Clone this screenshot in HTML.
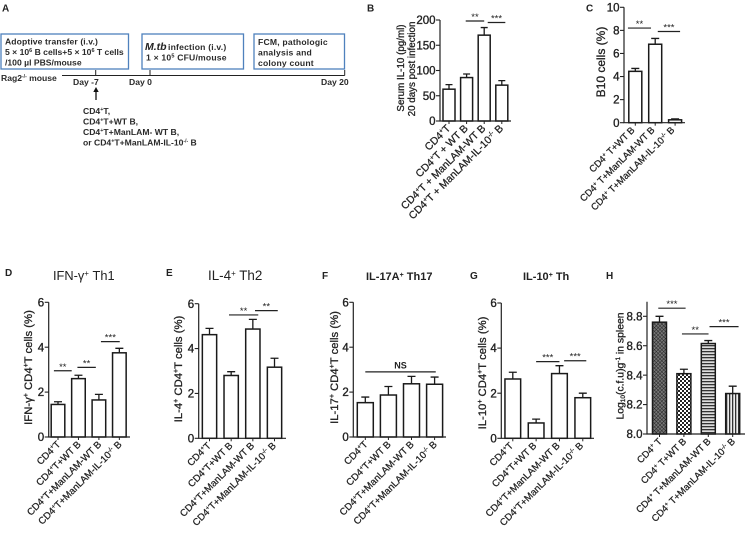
<!DOCTYPE html>
<html lang="en">
<head>
<meta charset="utf-8">
<title>Figure panels A-H</title>
<style>
html,body{margin:0;padding:0;background:#fff;}
svg{display:block;font-family:"Liberation Sans",sans-serif;fill:#222;filter:blur(0.25px);}
text{fill:#222;}
.bold{font-weight:bold;}
.a{font-size:8.6px;font-weight:bold;fill:#2a2a2a;}
</style>
</head>
<body>
<svg id="figure" width="749" height="533" viewBox="0 0 749 533" xmlns="http://www.w3.org/2000/svg">
<defs>
<pattern id="hatch-cross" width="2.6" height="2.6" patternUnits="userSpaceOnUse" patternTransform="rotate(45)"><rect width="2.6" height="2.6" fill="#777"/><path d="M0 0H2.6M0 0V2.6" stroke="#222" stroke-width="1"/></pattern>
<pattern id="hatch-check" width="4" height="4" patternUnits="userSpaceOnUse"><rect width="4" height="4" fill="#fff"/><rect width="2" height="2" fill="#222"/><rect x="2" y="2" width="2" height="2" fill="#222"/></pattern>
<pattern id="hatch-horizontal" width="3" height="3" patternUnits="userSpaceOnUse"><rect width="3" height="3" fill="#ddd"/><rect width="3" height="1.3" fill="#333"/></pattern>
<pattern id="hatch-vertical" width="3" height="3" patternUnits="userSpaceOnUse"><rect width="3" height="3" fill="#eee"/><rect width="1.3" height="3" fill="#333"/></pattern>
</defs>
<g id="panel-a">
<text class="bold" x="2" y="11.5" font-size="10">A</text>
<rect x="1" y="34" width="127.5" height="35" fill="none" stroke="#4f81bd" stroke-width="1.3"/>
<rect x="142" y="34" width="101.5" height="35" fill="none" stroke="#4f81bd" stroke-width="1.3"/>
<rect x="254" y="34" width="90.5" height="35" fill="none" stroke="#4f81bd" stroke-width="1.3"/>
<text class="a" x="5" y="44.5" letter-spacing="0.1">Adoptive transfer (i.v.)</text>
<text class="a" x="5" y="55">5 × 10<tspan font-size="5.5" dy="-3">6</tspan><tspan dy="3"> B cells+5 × 10</tspan><tspan font-size="5.5" dy="-3">6</tspan><tspan dy="3">  T cells</tspan></text>
<text class="a" x="5" y="65.5">/100 µl PBS/mouse</text>
<text x="145" y="50" font-size="10.5" font-weight="bold" font-style="italic">M.tb</text>
<text class="a" x="168" y="50" letter-spacing="0.2">infection (i.v.)</text>
<text class="a" x="146" y="60.5" letter-spacing="0.2">1 × 10<tspan font-size="5.5" dy="-3">5</tspan><tspan dy="3"> CFU/mouse</tspan></text>
<text class="a" x="258" y="45" letter-spacing="0.2">FCM, pathologic</text>
<text class="a" x="258" y="55.5" letter-spacing="0.2">analysis and</text>
<text class="a" x="258" y="66" letter-spacing="0.2">colony count</text>
<path d="M62 75.5H344.7M95.7 70V75.5M150 70V75.5M344.7 70V75.5" stroke="#222" stroke-width="1" fill="none"/>
<text class="a" x="1" y="81">Rag2<tspan font-size="5" dy="-3">-/-</tspan><tspan dy="3"> mouse</tspan></text>
<text class="a" x="73" y="85">Day -7</text>
<text class="a" x="129" y="85">Day 0</text>
<text class="a" x="321" y="85">Day 20</text>
<path d="M96 100V90" stroke="#111" stroke-width="1.3" fill="none"/>
<path d="M93.3 92L96 87L98.7 92Z" fill="#111"/>
<text class="a" x="83" y="114">CD4<tspan font-size="5.5" dy="-3">+</tspan><tspan dy="3">T,</tspan></text>
<text class="a" x="83" y="124.5">CD4<tspan font-size="5.5" dy="-3">+</tspan><tspan dy="3">T+WT B,</tspan></text>
<text class="a" x="83" y="135">CD4<tspan font-size="5.5" dy="-3">+</tspan><tspan dy="3">T+ManLAM- WT B,</tspan></text>
<text class="a" x="83" y="145.5">or CD4<tspan font-size="5.5" dy="-3">+</tspan><tspan dy="3">T+ManLAM-IL-10</tspan><tspan font-size="5" dy="-3">-/-</tspan><tspan dy="3">  B</tspan></text>
</g>
<text class="bold" x="367" y="11.5" font-size="10">B</text>
<text class="bold" x="586" y="11.5" font-size="10">C</text>
<text class="bold" x="5" y="276" font-size="10">D</text>
<text class="bold" x="166" y="276" font-size="10">E</text>
<text class="bold" x="322" y="279" font-size="10">F</text>
<text class="bold" x="470" y="279" font-size="10">G</text>
<text class="bold" x="606" y="279" font-size="10">H</text>
<text x="53" y="280" font-size="12.8">IFN-γ<tspan font-size="8" dy="-4">+</tspan><tspan dy="4"> Th1</tspan></text>
<text x="208" y="280" font-size="13.4">IL-4<tspan font-size="8" dy="-4">+</tspan><tspan dy="4"> Th2</tspan></text>
<text class="bold" x="366" y="280" font-size="11">IL-17A<tspan font-size="7" dy="-3">+</tspan><tspan dy="3"> Th17</tspan></text>
<text class="bold" x="523" y="280" font-size="11">IL-10<tspan font-size="7" dy="-3">+</tspan><tspan dy="3"> Th</tspan></text>
<g id="charts"></g>
</svg>
<script>
// Category labels; "^x^" marks superscript runs, "~x~" subscript runs
const categoriesB = ["CD4^+^T", "CD4^+^T + WT B", "CD4^+^T + ManLAM-WT B", "CD4^+^T + ManLAM-IL-10^-/-^ B"];
const categoriesC = ["CD4^+^ T+WT B", "CD4^+^ T+ManLAM-WT B", "CD4^+^ T+ManLAM-IL-10^-/-^ B"];
const categoriesDG = ["CD4^+^T", "CD4^+^T+WT B", "CD4^+^T+ManLAM-WT B", "CD4^+^T+ManLAM-IL-10^-/-^ B"];
const categoriesH = ["CD4^+^ T", "CD4^+^ T+WT B", "CD4^+^ T+ManLAM-WT B", "CD4^+^ T+ManLAM-IL-10^-/-^ B"];

// Bar values and top-of-error-bar values
const valuesB = [63, 86, 170, 71];
const errorsB = [72, 93, 185, 80];
const valuesC = [4.45, 6.8, 0.25];
const errorsC = [4.7, 7.3, 0.33];
const valuesD = [1.45, 2.6, 1.65, 3.75];
const errorsD = [1.57, 2.75, 1.9, 3.95];
const valuesE = [4.62, 2.8, 4.87, 3.17];
const errorsE = [4.9, 2.97, 5.3, 3.57];
const valuesF = [1.53, 1.87, 2.37, 2.35];
const errorsF = [1.78, 2.25, 2.7, 2.67];
const valuesG = [2.63, 0.68, 2.87, 1.8];
const errorsG = [2.93, 0.85, 3.22, 2.0];
const valuesH = [8.76, 8.41, 8.615, 8.275];
const errorsH = [8.80, 8.44, 8.635, 8.325];

// Tick labels
const ticksB = [0, 50, 100, 150, 200];
const ticksC = [0, 2, 4, 6, 8, 10];
const ticksSix = [0, 2, 4, 6];
const ticksH = ["8.0", "8.2", "8.4", "8.6", "8.8"];

// Significance: [from category, to category, data level, mark]
const sigB = [[0.95, 2, 198, "**"], [2.2, 3.2, 195, "***"]];
const sigC = [[-0.37, 0.79, 8.2, "**"], [1.13, 2.25, 7.9, "***"]];
const sigD = [[-0.2, 0.67, 2.95, "**"], [0.95, 1.85, 3.1, "**"], [2.1, 3.02, 4.25, "***"]];
const sigE = [[0.9, 2.25, 5.5, "**"], [2.1, 3.15, 5.69, "**"]];
const sigF = [[0, 3.05, 2.9, "NS"]];
const sigG = [[1, 2, 3.4, "***"], [2.2, 3.15, 3.44, "***"]];
const sigH = [[-0.05, 1.07, 8.855, "***"], [0.92, 2.01, 8.68, "**"], [2.05, 3.24, 8.73, "***"]];

const NS = "http://www.w3.org/2000/svg";
const root = document.getElementById("charts");

function svgEl(tag, attrs, parent) {
  const el = document.createElementNS(NS, tag);
  for (const k in attrs) el.setAttribute(k, attrs[k]);
  parent.appendChild(el);
  return el;
}

function richText(el, str, size) {
  const re = /\^([^^]*)\^|~([^~]*)~|([^^~]+)/g;
  let shifted = 0, m;
  while ((m = re.exec(str))) {
    const t = document.createElementNS(NS, "tspan");
    const small = m[3] === undefined;
    t.textContent = m[1] !== undefined ? m[1] : m[2] !== undefined ? m[2] : m[3];
    const target = m[1] !== undefined ? -size * 0.35 : m[2] !== undefined ? size * 0.12 : 0;
    if (target !== shifted) { t.setAttribute("dy", target - shifted); shifted = target; }
    if (small) t.setAttribute("font-size", size * 0.62);
    el.appendChild(t);
  }
}

function drawPanel(o) {
  const g = svgEl("g", {}, root);
  
  
  const y = v => o.yZero - (v - o.yMin) / (o.yMax - o.yMin) * (o.yZero - o.yTop);
  const cx = i => o.firstCenter + i * o.step;
  const yEnd = o.axisTop === undefined ? o.yTop : o.axisTop;

  // bars
  o.values.forEach((v, i) => {
    const c = cx(i);
    const err = svgEl("path", {
      d: `M${c} ${y(v)}V${y(o.errors[i])}M${c - o.cap} ${y(o.errors[i])}H${c + o.cap}`,
      stroke: "#1a1a1a", "stroke-width": 1.3, fill: "none"
    }, g);
    
    
    const bar = svgEl("rect", {
      x: c - o.barWidth / 2, y: y(v), width: o.barWidth, height: o.yZero - y(v),
      fill: o.fills ? o.fills[i] : "#fff", stroke: "#1a1a1a", "stroke-width": 1.5
    }, g);
    
    
    const tick = svgEl("path", { d: `M${c} ${o.yZero}v3`, stroke: "#222", "stroke-width": 1 }, g);
    
    
    const lab = svgEl("text", {
      x: 0, y: 0, "text-anchor": "end", "font-size": o.catSize,
      transform: `translate(${c + o.labelDx} ${o.yZero + 8}) rotate(-45)`,
      stroke: "#222", "stroke-width": 0.25
    }, g);
    richText(lab, o.categories[i], o.catSize);
    
    
  });

  // axes
  const axes = svgEl("path", {
    d: `M${o.axisX} ${yEnd}V${o.yZero}H${o.axisEnd}`, stroke: "#222", "stroke-width": 1.2, fill: "none"
  }, g);
  
  

  // y ticks
  o.ticks.forEach(t => {
    const v = parseFloat(t);
    const tk = svgEl("path", { d: `M${o.axisX - 4} ${y(v)}H${o.axisX}`, stroke: "#222", "stroke-width": 1.1 }, g);
    
    
    const lb = svgEl("text", {
      x: o.axisX - 4.5, y: y(v) + 4.1, "text-anchor": "end", "font-size": 11.5,
      stroke: "#222", "stroke-width": 0.35
    }, g);
    lb.textContent = t;
    
    
  });

  // y titles
  o.titles.forEach(tt => {
    const title = svgEl("text", {
      x: 0, y: 0, "text-anchor": "middle", "font-size": tt.size,
      transform: `translate(${tt.x} ${tt.y}) rotate(-90)`,
      stroke: "#222", "stroke-width": 0.3
    }, g);
    richText(title, tt.text, tt.size);
    
    
  });

  // significance
  o.sig.forEach(s => {
    const yy = y(s[2]);
    const line = svgEl("path", { d: `M${cx(s[0])} ${yy}H${cx(s[1])}`, stroke: "#222", "stroke-width": 1.2 }, g);
    
    
    const isNS = s[3] === "NS";
    const mark = svgEl("text", {
      x: (cx(s[0]) + cx(s[1])) / 2, y: yy - (isNS ? 3.5 : 1), "text-anchor": "middle",
      "font-size": isNS ? 9 : 9.5, "font-weight": isNS ? "bold" : "normal"
    }, g);
    mark.textContent = s[3];
    
    
  });
}

drawPanel({ name: "serum-il-10", categories: categoriesB, values: valuesB, errors: errorsB, ticks: ticksB, sig: sigB,
  yMin: 0, yMax: 200, yZero: 121, yTop: 20, axisX: 440, axisEnd: 511, firstCenter: 449, step: 17.6, barWidth: 12, cap: 3.5, catSize: 10.5, labelDx: 2,
  titles: [{ text: "Serum IL-10 (pg/ml)", x: 404, y: 68, size: 9.8 }, { text: "20 days post infection", x: 415, y: 69, size: 9.8 }] });

drawPanel({ name: "b10-cells", categories: categoriesC, values: valuesC, errors: errorsC, ticks: ticksC, sig: sigC,
  yMin: 0, yMax: 10, yZero: 122.7, yTop: 7.3, axisX: 624, axisEnd: 685, firstCenter: 635.3, step: 19.9, barWidth: 13, cap: 4, catSize: 9.5, labelDx: 0,
  titles: [{ text: "B10 cells (%)", x: 605, y: 62, size: 12 }] });

drawPanel({ name: "ifn-gamma-th1", categories: categoriesDG, values: valuesD, errors: errorsD, ticks: ticksSix, sig: sigD,
  yMin: 0, yMax: 6, yZero: 437, yTop: 302.3, axisX: 48.7, axisEnd: 130, firstCenter: 58, step: 20.45, barWidth: 13.6, cap: 4, catSize: 9.7, labelDx: 3,
  titles: [{ text: "IFN-γ^+^ CD4^+^T cells (%)", x: 32, y: 367.5, size: 11.3 }] });

drawPanel({ name: "il-4-th2", categories: categoriesDG, values: valuesE, errors: errorsE, ticks: ticksSix, sig: sigE,
  yMin: 0, yMax: 6, yZero: 438.3, yTop: 303.7, axisX: 198.7, axisEnd: 286, firstCenter: 209.5, step: 21.67, barWidth: 14.3, cap: 4, catSize: 9.7, labelDx: 2,
  titles: [{ text: "IL-4^+^ CD4^+^T cells (%)", x: 182, y: 369, size: 11.3 }] });

drawPanel({ name: "il-17a-th17", categories: categoriesDG, values: valuesF, errors: errorsF, ticks: ticksSix, sig: sigF,
  yMin: 0, yMax: 6, yZero: 437, yTop: 302.3, axisX: 353.3, axisEnd: 446, firstCenter: 365.3, step: 23.1, barWidth: 16, cap: 4, catSize: 9.7, labelDx: 3,
  titles: [{ text: "IL-17^+^ CD4^+^T cells (%)", x: 338, y: 367.5, size: 11.3 }] });

drawPanel({ name: "il-10-th", categories: categoriesDG, values: valuesG, errors: errorsG, ticks: ticksSix, sig: sigG,
  yMin: 0, yMax: 6, yZero: 438.3, yTop: 303, axisX: 501.3, axisEnd: 594, firstCenter: 512.8, step: 23.33, barWidth: 15.7, cap: 4, catSize: 9.7, labelDx: 1,
  titles: [{ text: "IL-10^+^ CD4^+^T cells (%)", x: 486, y: 373, size: 11.3 }] });

drawPanel({ name: "spleen-cfu", categories: categoriesH, values: valuesH, errors: errorsH, ticks: ticksH, sig: sigH,
  yMin: 8.0, yMax: 8.8, yZero: 434, yTop: 316.3, axisTop: 301.7, axisX: 647, axisEnd: 745, firstCenter: 659.5, step: 24.4, barWidth: 14, cap: 4, catSize: 9.5, labelDx: 3,
  fills: ["url(#hatch-cross)", "url(#hatch-check)", "url(#hatch-horizontal)", "url(#hatch-vertical)"],
  titles: [{ text: "Log~10~(c.f.u)g^-1^ in spleen", x: 623.5, y: 366, size: 10.4 }] });
</script>
</body>
</html>
